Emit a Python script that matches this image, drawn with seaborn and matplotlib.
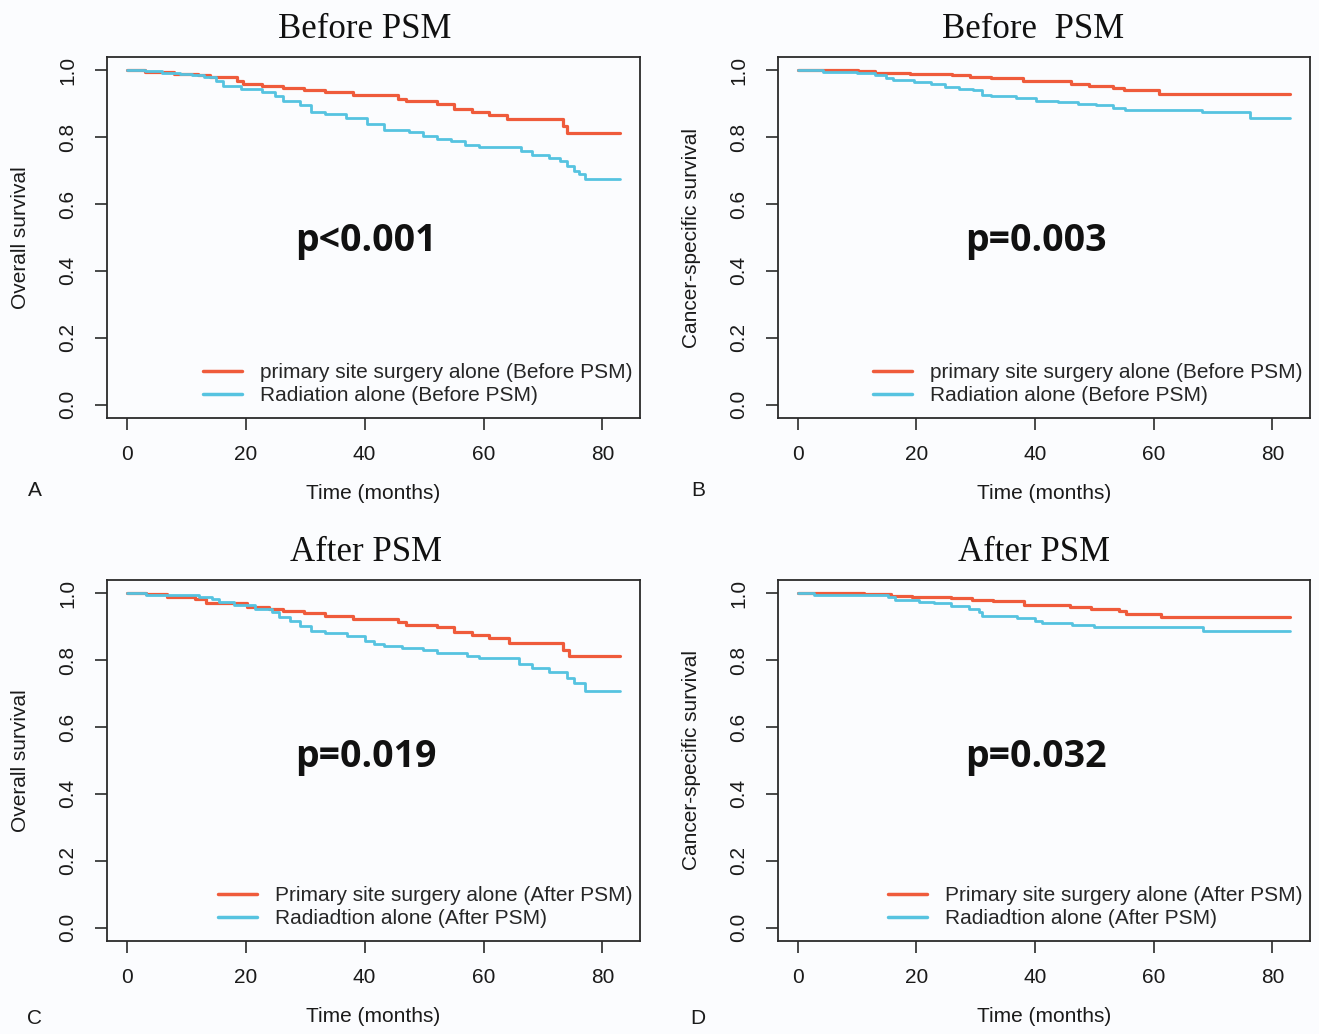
import pandas as pd
import seaborn as sns
import matplotlib.pyplot as plt

# Kaplan-Meier step values (time in months, survival)
a_surg_t = [0, 3, 8, 12, 14, 18.5, 19.5, 22.7, 26.2, 29.8, 33.3, 38, 45.7, 46.9, 52.2, 55.1, 58.1, 61, 64, 73.4, 74.1, 83]
a_surg_s = [1.0, 0.995, 0.99, 0.985, 0.98, 0.968, 0.960, 0.954, 0.947, 0.940, 0.934, 0.925, 0.914, 0.907, 0.898, 0.883, 0.875, 0.866, 0.855, 0.833, 0.813, 0.813]
a_rad_t = [0, 3, 6, 9, 11, 13, 15, 16.2, 19.2, 22.7, 25, 26.2, 29.2, 31, 33.3, 36.9, 40.4, 43.3, 47.5, 49.8, 52.2, 54.5, 56.9, 59.3, 66.3, 68.1, 71, 72.8, 74, 75.2, 76.1, 77, 83]
a_rad_s = [1.0, 0.997, 0.993, 0.989, 0.985, 0.98, 0.967, 0.954, 0.944, 0.934, 0.922, 0.909, 0.895, 0.875, 0.868, 0.858, 0.841, 0.823, 0.815, 0.805, 0.795, 0.788, 0.778, 0.771, 0.758, 0.746, 0.738, 0.728, 0.713, 0.699, 0.689, 0.674, 0.674]

b_surg_t = [0, 10.1, 13.1, 19, 26, 29, 32.5, 37.9, 46.1, 49, 53.2, 55, 60.8, 83]
b_surg_s = [1.0, 0.997, 0.993, 0.989, 0.985, 0.981, 0.977, 0.968, 0.959, 0.953, 0.947, 0.94, 0.93, 0.93]
b_rad_t = [0, 4.2, 10, 13.1, 14.9, 16, 19.6, 22.5, 24.9, 27.2, 29.6, 31.1, 32.5, 36.7, 40.2, 43.8, 47.3, 50.2, 53.2, 55.2, 68.2, 76.2, 83]
b_rad_s = [1.0, 0.995, 0.991, 0.985, 0.977, 0.97, 0.965, 0.959, 0.951, 0.945, 0.94, 0.927, 0.922, 0.917, 0.909, 0.905, 0.9, 0.895, 0.887, 0.882, 0.875, 0.858, 0.858]

c_surg_t = [0, 3.2, 6.8, 11.5, 13.3, 20.3, 23.9, 26.2, 29.8, 33.3, 38, 45.7, 46.9, 52.2, 55.1, 58.1, 61, 64.3, 73.4, 74.3, 83]
c_surg_s = [1.0, 0.997, 0.989, 0.982, 0.972, 0.960, 0.954, 0.947, 0.94, 0.932, 0.924, 0.914, 0.904, 0.898, 0.883, 0.875, 0.865, 0.853, 0.830, 0.813, 0.813]
c_rad_t = [0, 3.2, 12.1, 14.4, 15.6, 18, 21.5, 24.5, 25.6, 27.4, 29.2, 31, 33.3, 37.1, 40.1, 41.6, 43.3, 46.3, 49.8, 52.2, 57.2, 59.3, 66, 68.1, 71, 74, 75.2, 77, 83]
c_rad_s = [1.0, 0.994, 0.989, 0.984, 0.974, 0.965, 0.954, 0.944, 0.929, 0.917, 0.902, 0.888, 0.880, 0.873, 0.858, 0.850, 0.843, 0.838, 0.830, 0.821, 0.813, 0.808, 0.790, 0.778, 0.765, 0.748, 0.733, 0.708, 0.708]

d_surg_t = [0, 11.1, 15.8, 19.3, 25.8, 29.4, 32.9, 38.2, 45.9, 49.4, 54.1, 55.3, 61.2, 83]
d_surg_s = [1.0, 0.997, 0.993, 0.988, 0.985, 0.981, 0.976, 0.966, 0.958, 0.952, 0.946, 0.938, 0.928, 0.928]
d_rad_t = [0, 2.8, 15.2, 16.4, 20.5, 22.9, 25.8, 28.8, 30.5, 31.1, 37, 40, 41.2, 46.2, 50, 68.3, 83]
d_rad_s = [1.0, 0.996, 0.988, 0.98, 0.975, 0.97, 0.963, 0.953, 0.943, 0.931, 0.925, 0.918, 0.91, 0.905, 0.9, 0.888, 0.888]

titles = ["Before PSM", "Before  PSM", "After PSM", "After PSM"]
ylabels = ["Overall survival", "Cancer-specific survival", "Overall survival", "Cancer-specific survival"]
pvals = ["p<0.001", "p=0.003", "p=0.019", "p=0.032"]
letters = ["A", "B", "C", "D"]
legend_labels = [
    ["primary site surgery alone (Before PSM)", "Radiation alone (Before PSM)"],
    ["primary site surgery alone (Before PSM)", "Radiation alone (Before PSM)"],
    ["Primary site surgery alone (After PSM)", "Radiadtion alone (After PSM)"],
    ["Primary site surgery alone (After PSM)", "Radiadtion alone (After PSM)"],
]
curves = [
    (a_surg_t, a_surg_s, a_rad_t, a_rad_s),
    (b_surg_t, b_surg_s, b_rad_t, b_rad_s),
    (c_surg_t, c_surg_s, c_rad_t, c_rad_s),
    (d_surg_t, d_surg_s, d_rad_t, d_rad_s),
]

RED = "#EF5B3B"
BLUE = "#56C3E0"
BG = "#FBFCFE"

sns.set_theme(style="ticks")
plt.rcParams["font.family"] = ["Liberation Sans", "DejaVu Sans"]

fig = plt.figure(figsize=(13.19, 10.34), dpi=100, facecolor=BG)
W, H = 1319, 1034
# axes boxes in pixels (left, top, right, bottom)
boxes = [(107, 57, 640, 418), (778, 57, 1310, 418), (107, 580, 640, 941), (778, 580, 1310, 941)]
letter_pos = [(35, 491), (698, 491), (35, 1019), (698, 1019)]
title_x = [0.484, 0.479, 0.486, 0.481]
p_y = [0.491, 0.491, 0.509, 0.509]

for i in range(4):
    l, t, r, b = boxes[i]
    ax = fig.add_axes([l / W, 1 - b / H, (r - l) / W, (b - t) / H])
    ax.set_facecolor(BG)
    st, ss, rt, rs = curves[i]
    df = pd.concat([
        pd.DataFrame({"time": st, "surv": ss, "group": "surgery"}),
        pd.DataFrame({"time": rt, "surv": rs, "group": "radiation"}),
    ])
    sns.lineplot(data=df, x="time", y="surv", hue="group", palette=[RED, BLUE],
                 hue_order=["surgery", "radiation"], drawstyle="steps-post",
                 estimator=None, sort=False, linewidth=2.0, legend=False, ax=ax)
    ax.lines[0].set_linewidth(2.3)

    ax.set_xlim(-3.32, 86.32)
    ax.set_ylim(-0.04, 1.04)
    ax.set_xticks([0, 20, 40, 60, 80])
    ax.set_yticks([0, 0.2, 0.4, 0.6, 0.8, 1.0])
    ax.set_yticklabels(["0.0", "0.2", "0.4", "0.6", "0.8", "1.0"], rotation=90, va="center")
    ax.tick_params(axis="both", direction="out", length=8.6, width=1.2, colors="#2a2a2a",
                   labelsize=15, labelcolor="#1a1a1a")
    ax.tick_params(axis="x", pad=11)
    ax.tick_params(axis="y", pad=13)
    for sp in ax.spines.values():
        sp.set_visible(True)
        sp.set_color("#2a2a2a")
        sp.set_linewidth(1.3)

    ax.set_xlabel("Time (months)", fontsize=15, color="#1a1a1a")
    ax.set_ylabel(ylabels[i], fontsize=15, color="#1a1a1a")
    ax.xaxis.set_label_coords(0.5, -0.183)
    ax.yaxis.set_label_coords(-0.145, 0.5)
    ax.set_title(titles[i], fontsize=25, family=["Liberation Serif", "DejaVu Serif"],
                 color="#111111", pad=13.5, x=title_x[i])

    ax.text(40.2, p_y[i], pvals[i], fontsize=27, fontweight="bold",
            family=["Open Sans", "DejaVu Sans"], ha="center", va="center", color="#111111")

    ax.legend(handles=ax.lines[:2], labels=legend_labels[i], loc="lower right",
              bbox_to_anchor=(0.985, 0.035), frameon=False, fontsize=15,
              handlelength=1.85, handletextpad=0.85, labelspacing=0.2,
              borderaxespad=0, borderpad=0)
    for lh in ax.get_legend().get_lines():
        lh.set_linewidth(2.5)

    lx, ly = letter_pos[i]
    fig.text(lx / W, 1 - ly / H, letters[i], fontsize=15, ha="center", va="center", color="#1a1a1a")

fig.savefig("out.png", dpi=100, facecolor=BG)
